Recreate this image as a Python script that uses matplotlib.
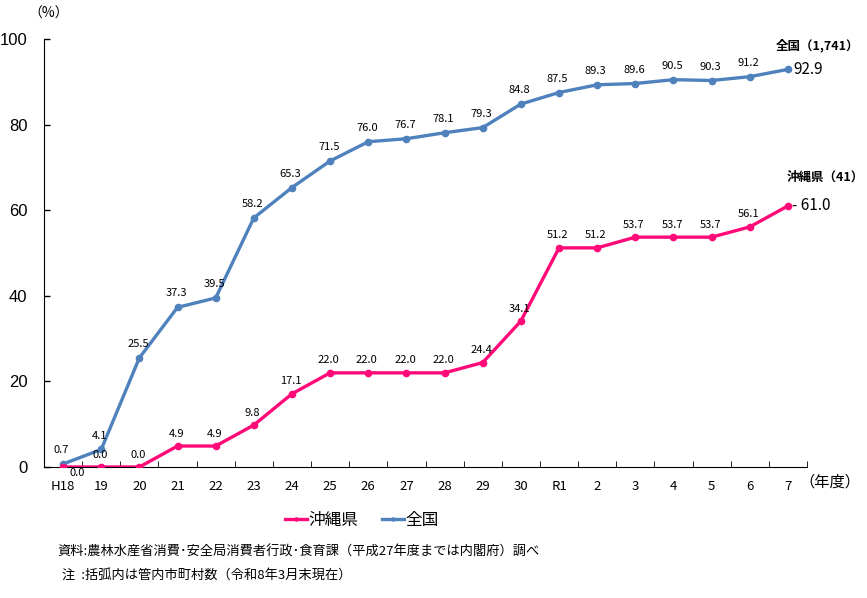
import matplotlib.pyplot as plt
from matplotlib.ticker import FixedLocator

plt.rcParams['font.family'] = ['Noto Sans CJK JP', 'DejaVu Sans']

years = ['H18', '19', '20', '21', '22', '23', '24', '25', '26', '27', '28', '29', '30',
         'R1', '2', '3', '4', '5', '6', '7']
okinawa = [0.0, 0.0, 0.0, 4.9, 4.9, 9.8, 17.1, 22.0, 22.0, 22.0, 22.0, 24.4, 34.1,
           51.2, 51.2, 53.7, 53.7, 53.7, 56.1, 61.0]
zenkoku = [0.7, 4.1, 25.5, 37.3, 39.5, 58.2, 65.3, 71.5, 76.0, 76.7, 78.1, 79.3, 84.8,
           87.5, 89.3, 89.6, 90.5, 90.3, 91.2, 92.9]

pink = '#FF0A78'
blue = '#4F81BD'

fig = plt.figure(figsize=(8.67, 5.98), dpi=100)
ax = fig.add_axes([44 / 867, 1 - 467 / 598, (807 - 44) / 867, (467 - 39) / 598])

x = list(range(len(years)))
ax.plot(x, okinawa, color=pink, lw=2.4, marker='o', ms=4.5, label='沖縄県', zorder=3)
ax.plot(x, zenkoku, color=blue, lw=2.4, marker='o', ms=4.5, label='全国', zorder=2)

ax.set_xlim(-0.5, len(years) - 0.5)
ax.set_ylim(0, 100)
ax.set_yticks([0, 20, 40, 60, 80, 100])
ax.tick_params(axis='y', direction='in', length=4.5, labelsize=12, width=1, pad=12)
for t in ax.get_yticklabels():
    t.set_family(['Liberation Sans'])
ax.set_xticks(x)
ax.set_xticklabels(years)
ax.tick_params(axis='x', which='major', length=0, labelsize=9.5, pad=9)
ax.xaxis.set_minor_locator(FixedLocator([i + 0.5 for i in range(len(years))]))
ax.tick_params(axis='x', which='minor', direction='in', length=4)
for s in ['top', 'right']:
    ax.spines[s].set_visible(False)

# data labels
for i in range(len(years) - 1):
    if i == 0:
        ax.annotate(f'{okinawa[i]:.1f}', (i, okinawa[i]), xytext=(10, -4.5), textcoords='offset points',
                    ha='center', va='center', fontsize=8)
    else:
        ax.annotate(f'{okinawa[i]:.1f}', (i, okinawa[i]), xytext=(-1, 9), textcoords='offset points',
                    ha='center', va='center', fontsize=8)
    ax.annotate(f'{zenkoku[i]:.1f}', (i, zenkoku[i]), xytext=(-1, 10), textcoords='offset points',
                ha='center', va='center', fontsize=8)

n = len(years) - 1
ax.annotate(f'{zenkoku[n]:.1f}', (n, zenkoku[n]), xytext=(4, 0), textcoords='offset points',
            ha='left', va='center', fontsize=11)
ax.annotate('- ' + f'{okinawa[n]:.1f}', (n, okinawa[n]), xytext=(3, 0), textcoords='offset points',
            ha='left', va='center', fontsize=11)
ax.annotate('全国（1,741）', (n, zenkoku[n]), xytext=(21, 17), textcoords='offset points',
            ha='center', va='center', fontsize=9, fontweight='bold')
ax.annotate('沖縄県（41）', (n, okinawa[n]), xytext=(27, 21), textcoords='offset points',
            ha='center', va='center', fontsize=9, fontweight='bold')

fig.text(49 / 867, 1 - 14 / 598, '（%）', ha='center', va='center', fontsize=10)
fig.text(830 / 867, 1 - 482 / 598, '（年度）', ha='center', va='center', fontsize=11)

ax.legend(loc='center', bbox_to_anchor=(362 / 867, 1 - 520 / 598), bbox_transform=fig.transFigure,
          ncol=2, frameon=False, fontsize=12, handlelength=1.3, columnspacing=1.4,
          handletextpad=0.1, markerscale=0.5)

fig.text(57 / 867, 1 - 552 / 598, '資料:農林水産省消費･安全局消費者行政･食育課（平成27年度までは内閣府）調べ',
         ha='left', va='center', fontsize=9.5)
fig.text(62 / 867, 1 - 575 / 598, '注  :括弧内は管内市町村数（令和8年3月末現在）',
         ha='left', va='center', fontsize=9.5)

fig.savefig('out.png', dpi=100)
